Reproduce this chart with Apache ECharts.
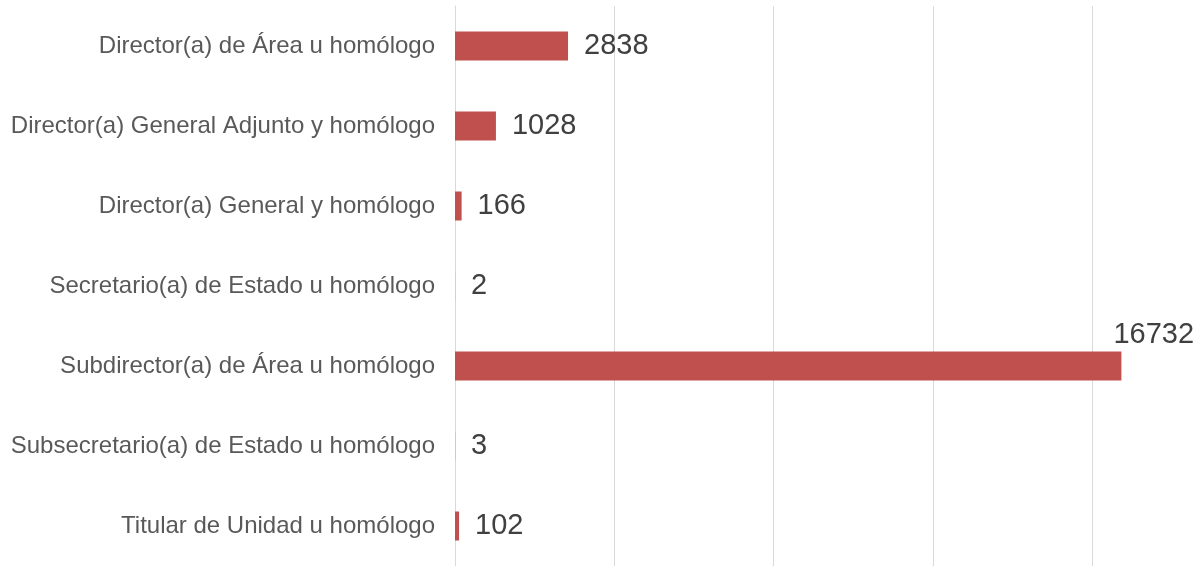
<!DOCTYPE html>
<html><head><meta charset="utf-8">
<script src="https://cdn.jsdelivr.net/npm/echarts@6/dist/echarts.min.js"></script>
<style>html,body{margin:0;padding:0;background:#fff}#c{width:1199px;height:566px}</style>
</head><body><div id="c"></div>
<script>
const categories = [
  "Director(a) de Área u homólogo",
  "Director(a) General Adjunto y homólogo",
  "Director(a) General y homólogo",
  "Secretario(a) de Estado u homólogo",
  "Subdirector(a) de Área u homólogo",
  "Subsecretario(a) de Estado u homólogo",
  "Titular de Unidad u homólogo"
];
const values = [2838, 1028, 166, 2, 16732, 3, 102];

const chart = echarts.init(document.getElementById('c'), null, {renderer: 'canvas'});
const data = values.map((v, i) => {
  const item = {value: v};
  if (v === 16732) item.label = {offset: [-24, -31]};
  return item;
});
const gc = '#d9d9d9';
chart.setOption({
  animation: false,
  grid: {left: 455, right: 0, top: 6, bottom: 0, containLabel: false},
  xAxis: {
    type: 'value', min: 0, max: 18680, interval: 4000,
    axisLabel: {show: false}, axisTick: {show: false}, axisLine: {show: false},
    splitLine: {show: true, lineStyle: {color: [gc, gc, gc, gc, gc, 'rgba(0,0,0,0)'], width: 1}}
  },
  yAxis: {
    type: 'category', data: categories, inverse: true,
    axisTick: {show: false},
    axisLine: {show: true, lineStyle: {color: gc, width: 1}},
    axisLabel: {color: '#595959', fontSize: 24, fontFamily: 'Liberation Sans, Arial, sans-serif', margin: 20}
  },
  series: [{
    type: 'bar', data: data, barWidth: 29,
    itemStyle: {color: '#c0504d'},
    label: {show: true, position: 'right', distance: 16, color: '#404040', fontSize: 29, fontFamily: 'Liberation Sans, Arial, sans-serif'}
  }]
});
</script></body></html>
